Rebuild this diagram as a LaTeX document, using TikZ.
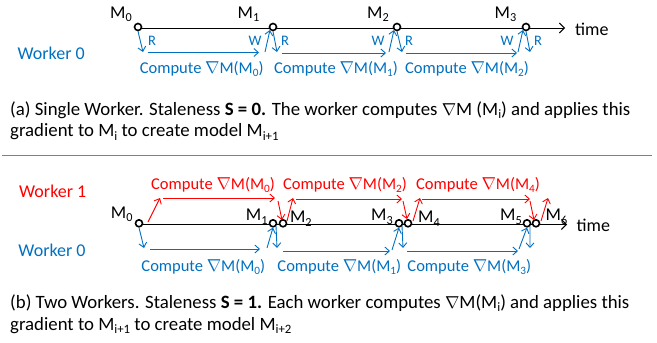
\documentclass[tikz,border=0pt]{standalone}
\usepackage{fontspec}
\usepackage{graphicx}
\setmainfont{Carlito}
\usetikzlibrary{arrows.meta}
\definecolor{wblue}{RGB}{0,112,192}
\definecolor{wred}{RGB}{255,0,0}
\newcommand{\nab}{$\nabla$}
\newcommand{\sbs}[1]{\raisebox{-0.2em}{\scalebox{0.68}{#1}}}
\begin{document}
\begin{tikzpicture}[x=1pt,y=-1pt,
  arr/.style={-{Straight Barb[length=4.5pt,width=8pt]}, line width=0.9pt},
  bl/.style={arr, wblue},
  rd/.style={arr, wred},
  axis/.style={-{Straight Barb[length=5pt,width=10pt]}, line width=1pt, black},
  mpt/.style={circle, draw=black, fill=white, line width=1.6pt, inner sep=0pt, minimum size=7pt},
  mlbl/.style={font=\fontsize{18}{21}\selectfont, inner sep=0pt, anchor=base},
  clbl/.style={font=\fontsize{16.5}{19}\selectfont, inner sep=0pt, anchor=base},
  wlbl/.style={font=\fontsize{14.5}{17}\selectfont, inner sep=0pt, wblue, anchor=base},
  worker/.style={font=\fontsize{18}{21}\selectfont, inner sep=0pt, anchor=base west},
  captext/.style={font=\fontsize{18.8}{22}\selectfont, inner sep=0pt, anchor=base west},
  sepline/.style={line width=1.2pt, black!50}]
\useasboundingbox (0,0) rectangle (657,343);

% ---------- panel (a) ----------
\node[worker, wblue] (wa0) at (17.5,59.3) {Worker 0};
\coordinate (tas) at (138,28);
\coordinate (tae) at (565,28);
\draw[axis] (tas) -- (tae);
\node[mlbl, anchor=base west] (timea) at (575,35) {time};
\node[mpt] (a0) at (138,27) {};
\node[mpt] (a1) at (273,27) {};
\node[mpt] (a2) at (397,27) {};
\node[mpt] (a3) at (526,27) {};
\node[mlbl] (la0) at (121,18.3) {M\sbs{0}};
\node[mlbl] (la1) at (248.5,18.3) {M\sbs{1}};
\node[mlbl] (la2) at (378,18.3) {M\sbs{2}};
\node[mlbl] (la3) at (505.5,18.3) {M\sbs{3}};

\coordinate (ar0e) at (143,52);
\draw[bl] (a0.south) -- (ar0e);
\node[wlbl] (ar0l) at (152,45) {R};
\coordinate (ac0s) at (147.5,52.5); \coordinate (ac0e) at (259,52.5);
\draw[bl] (ac0s) -- (ac0e);
\node[clbl, wblue] (ac0l) at (201.7,73.3) {Compute \nab M(M\sbs{0})};

\coordinate (aw1s) at (265,52);
\draw[bl] (aw1s) -- (a1.south west);
\node[wlbl] (aw1l) at (255,45) {W};
\coordinate (ar1e) at (277,52);
\draw[bl] (a1.south) -- (ar1e);
\node[wlbl] (ar1l) at (285,45) {R};
\coordinate (ac1s) at (282,53); \coordinate (ac1e) at (386,53);
\draw[bl] (ac1s) -- (ac1e);
\node[clbl, wblue] (ac1l) at (336,73.3) {Compute \nab M(M\sbs{1})};

\coordinate (aw2s) at (389,52);
\draw[bl] (aw2s) -- (a2.south west);
\node[wlbl] (aw2l) at (378,45) {W};
\coordinate (ar2e) at (402,52);
\draw[bl] (a2.south) -- (ar2e);
\node[wlbl] (ar2l) at (409,45) {R};
\coordinate (ac2s) at (406,53); \coordinate (ac2e) at (517,53);
\draw[bl] (ac2s) -- (ac2e);
\node[clbl, wblue] (ac2l) at (467,73.3) {Compute \nab M(M\sbs{2})};

\coordinate (aw3s) at (518,52);
\draw[bl] (aw3s) -- (a3.south west);
\node[wlbl] (aw3l) at (507,45) {W};
\coordinate (ar3e) at (530,52);
\draw[bl] (a3.south) -- (ar3e);
\node[wlbl] (ar3l) at (538,45) {R};

\node[captext] (capa1) at (10,115) {(a) Single Worker. Staleness \textbf{S = 0.} The worker computes \nab M (M\sbs{i}) and applies this};
\node[captext] (capa2) at (10,136.7) {gradient to M\sbs{i} to create model M\sbs{i+1}};

\coordinate (sepl) at (2,155.5); \coordinate (sepr) at (652,155.5);
\draw[sepline] (sepl) -- (sepr);

% ---------- panel (b) ----------
\node[worker, wred] (wb1) at (19,197.7) {Worker 1};
\node[worker, wblue] (wb0) at (18.3,256) {Worker 0};
\coordinate (tbs) at (139,224.5);
\coordinate (tbe) at (567,224.5);
\draw[axis] (tbs) -- (tbe);
\node[mlbl, anchor=base west] (timeb) at (576.5,231.7) {time};

% red arrows (worker 1)
\coordinate (r0s) at (148,222); \coordinate (r0e) at (160,198);
\draw[rd] (r0s) -- (r0e);
\coordinate (rc0s) at (163,198); \coordinate (rc0e) at (275,198);
\draw[rd] (rc0s) -- (rc0e);
\node[clbl, wred] (rc0l) at (213,189.5) {Compute \nab M(M\sbs{0})};
\coordinate (rd1s) at (278,201); \coordinate (rd1e) at (282,220);
\draw[rd] (rd1s) -- (rd1e);
\coordinate (ru1s) at (287,221); \coordinate (ru1e) at (293,198);
\draw[rd] (ru1s) -- (ru1e);
\coordinate (rc2s) at (296,199); \coordinate (rc2e) at (402,199);
\draw[rd] (rc2s) -- (rc2e);
\node[clbl, wred] (rc2l) at (345,189.5) {Compute \nab M(M\sbs{2})};
\coordinate (rd2s) at (403,201); \coordinate (rd2e) at (407,219);
\draw[rd] (rd2s) -- (rd2e);
\coordinate (ru2s) at (413,221); \coordinate (ru2e) at (420,198);
\draw[rd] (ru2s) -- (ru2e);
\coordinate (rc4s) at (422,199); \coordinate (rc4e) at (530,199);
\draw[rd] (rc4s) -- (rc4e);
\node[clbl, wred] (rc4l) at (478,189.5) {Compute \nab M(M\sbs{4})};
\coordinate (rd3s) at (530,201); \coordinate (rd3e) at (534,220);
\draw[rd] (rd3s) -- (rd3e);
\coordinate (ru3s) at (541,221); \coordinate (ru3e) at (548,198);
\draw[rd] (ru3s) -- (ru3e);

% model points
\node[mpt] (b0) at (139,223.3) {};
\node[mpt] (b1) at (273,223.3) {};
\node[mpt] (b2) at (283,223.3) {};
\node[mpt] (b3) at (399,223.3) {};
\node[mpt] (b4) at (408,223.3) {};
\node[mpt] (b5) at (527,223.3) {};
\node[mpt] (b6) at (536,223.3) {};
\node[mlbl] (lb0) at (121.7,218.3) {M\sbs{0}};
\node[mlbl] (lb1) at (256.7,220.7) {M\sbs{1}};
\node[mlbl] (lb2) at (300.8,222.5) {M\sbs{2}};
\node[mlbl] (lb3) at (382,220.5) {M\sbs{3}};
\node[mlbl] (lb4) at (429,222.5) {M\sbs{4}};
\node[mlbl] (lb5) at (511,220.5) {M\sbs{5}};
\node[mlbl] (lb6) at (556.5,220.5) {M\sbs{6}};

% blue arrows (worker 0)
\coordinate (br0e) at (144,248);
\draw[bl] (b0.south) -- (br0e);
\coordinate (bc0s) at (150,249); \coordinate (bc0e) at (260,249);
\draw[bl] (bc0s) -- (bc0e);
\node[clbl, wblue] (bc0l) at (203.3,271.5) {Compute \nab M(M\sbs{0})};
\coordinate (bw1s) at (267,248);
\draw[bl] (bw1s) -- (b1.south);
\coordinate (br1e) at (277,248);
\draw[bl] (b1.south east) -- (br1e);
\coordinate (bc1s) at (283,251); \coordinate (bc1e) at (390,251);
\draw[bl] (bc1s) -- (bc1e);
\node[clbl, wblue] (bc1l) at (339.3,271.5) {Compute \nab M(M\sbs{1})};
\coordinate (bw2s) at (392,250);
\draw[bl] (bw2s) -- (b3.south);
\coordinate (br2e) at (403,248);
\draw[bl] (b3.south east) -- (br2e);
\coordinate (bc3s) at (407,251); \coordinate (bc3e) at (518,251);
\draw[bl] (bc3s) -- (bc3e);
\node[clbl, wblue] (bc3l) at (469.3,271.5) {Compute \nab M(M\sbs{3})};
\coordinate (bw3s) at (519,249);
\draw[bl] (bw3s) -- (b5.south);
\coordinate (br3e) at (530,248);
\draw[bl] (b5.south east) -- (br3e);

\node[captext] (capb1) at (10,308) {(b) Two Workers. Staleness \textbf{S = 1.} Each worker computes \nab M(M\sbs{i}) and applies this};
\node[captext] (capb2) at (10,330) {gradient to M\sbs{i+1} to create model M\sbs{i+2}};
\end{tikzpicture}
\end{document}
